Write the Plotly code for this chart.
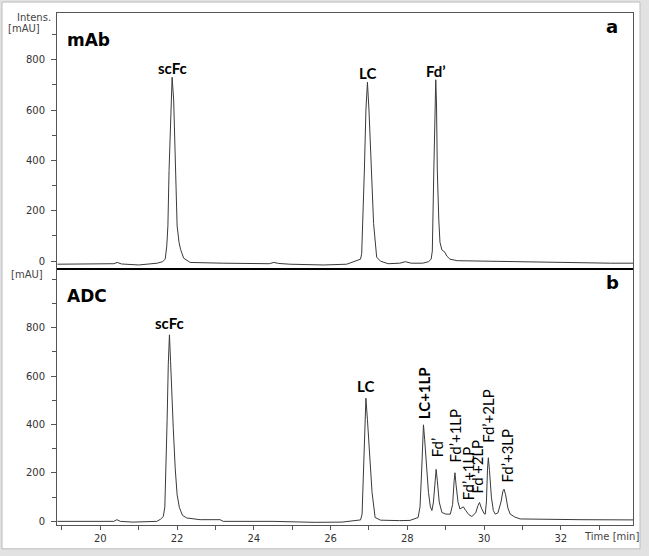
import plotly.graph_objects as go

# ---- chromatogram traces (time [min], intensity [mAU]) ----
mab_time = [18.88, 19.8, 20.35, 20.44, 20.55, 21.0, 21.48, 21.62, 21.69, 21.73, 21.76,
            21.79, 21.84, 21.87, 21.91, 21.95, 22.0, 22.05, 22.09, 22.17, 22.34, 23.2,
            24.4, 24.52, 24.65, 24.94, 25.82, 26.42, 26.63, 26.78, 26.81, 26.84, 26.88,
            26.92, 26.96, 27.0, 27.04, 27.07, 27.12, 27.2, 27.3, 27.5, 27.8, 27.95,
            28.1, 28.4, 28.55, 28.62, 28.65, 28.69, 28.72, 28.74, 28.76, 28.78, 28.82,
            28.85, 28.9, 28.98, 29.03, 29.11, 29.3, 30.0, 31.0, 32.0, 33.3, 33.88]
mab_int = [-12, -12, -10, -5, -11, -15, -8, -2, 8, 60, 140,
           360, 640, 730, 640, 360, 140, 75, 47, 12, -5, -8,
           -10, -5, -9, -12, -15, -12, -2, 8, 30, 150, 362,
           600, 710, 600, 450, 362, 150, 16, 0, -10, -8, -2,
           -8, -8, -2, 8, 40, 362, 620, 720, 620, 362, 160,
           75, 45, 35, 20, 8, 2, 0, -2, -4, -8, -8]

adc_time = [18.88, 19.8, 20.35, 20.43, 20.52, 20.85, 21.47, 21.57, 21.64, 21.68, 21.71,
            21.74, 21.77, 21.80, 21.83, 21.87, 21.90, 21.95, 22.0, 22.06, 22.14, 22.25,
            22.6, 23.12, 23.2, 24.5, 25.6, 26.3, 26.6, 26.78, 26.82, 26.85, 26.89,
            26.92, 26.96, 27.0, 27.03, 27.08, 27.16, 27.3, 27.8, 28.07, 28.28, 28.33,
            28.37, 28.40, 28.42, 28.45, 28.49, 28.55, 28.6, 28.64, 28.68, 28.72, 28.75,
            28.78, 28.83, 28.9, 29.0, 29.12, 29.18, 29.22, 29.24, 29.27, 29.32, 29.37,
            29.42, 29.46, 29.52, 29.6, 29.68, 29.78, 29.84, 29.88, 29.93, 30.0, 30.03,
            30.06, 30.09, 30.11, 30.14, 30.19, 30.24, 30.29, 30.36, 30.44, 30.49, 30.52,
            30.56, 30.62, 30.68, 30.8, 30.94, 31.5, 32.5, 33.88]
adc_int = [0, 0, 0, 7, 0, -3, 0, 9, 20, 60, 200,
           420, 650, 771, 660, 450, 385, 220, 110, 57, 25, 14,
           7, 7, 0, 0, -4, -3, 2, 6, 30, 200, 420,
           509, 420, 320, 263, 120, 16, 5, 3, 4, 16, 60,
           200, 350, 399, 340, 235, 120, 60, 45, 80, 170, 215,
           170, 80, 37, 30, 30, 70, 170, 201, 150, 80, 51,
           58, 60, 45, 28, 20, 35, 65, 78, 55, 32, 30,
           80, 220, 263, 210, 100, 45, 30, 35, 80, 125, 133,
           110, 55, 30, 18, 10, 8, 7, 6]

y_tickvals = [0, 200, 400, 600, 800]

# ---- peak labels ----
mab_labels = ['scFc', 'LC', 'Fd’']
mab_label_time = [21.87, 26.96, 28.74]
mab_label_int = [730, 710, 720]

adc_labels = ['scFc', 'LC']
adc_label_time = [21.80, 26.92]
adc_label_int = [771, 509]

adc_vlabels = ['LC+1LP', 'Fd’', 'Fd’+1LP', 'Fd’+1LP', 'Fd’+2LP', 'Fd’+2LP', 'Fd’+3LP']
adc_vlabel_bold = [True, False, False, False, False, False, False]
adc_vlabel_time = [28.42, 28.78, 29.24, 29.58, 29.82, 30.08, 30.6]
adc_vlabel_int = [416, 256, 235, 79, 108, 317, 153]

W, H = 649, 556
ML, MR, MT, MB = 57, 16, 12, 28
PW, PH = W - ML - MR, H - MT - MB


def px_x(px):
    return (px - ML) / PW


def px_y(py):
    return (H - MB - py) / PH


LINE = '#3a3a3a'
FRAME = '#555555'
TICKFONT = dict(family='DejaVu Sans', size=10, color='#333333')
LABFONT = 'Lato'

fig = go.Figure()
fig.add_trace(go.Scatter(x=mab_time, y=mab_int, mode='lines', xaxis='x2', yaxis='y2',
                         line=dict(color=LINE, width=1), hoverinfo='skip'))
fig.add_trace(go.Scatter(x=adc_time, y=adc_int, mode='lines', xaxis='x', yaxis='y',
                         line=dict(color=LINE, width=1), hoverinfo='skip'))

xr = [18.87, 33.88]
yaxis_common = dict(
    showline=True, linecolor=FRAME, linewidth=1, mirror=True,
    ticks='outside', ticklen=5, tickcolor=FRAME, tickmode='array', tickvals=y_tickvals,
    minor=dict(ticks='outside', ticklen=4, tickmode='linear', tick0=0, dtick=100,
               tickcolor=FRAME),
    showgrid=False, zeroline=False, tickfont=TICKFONT, ticklabelstandoff=4,
)

fig.update_layout(
    width=W, height=H,
    margin=dict(l=ML, r=MR, t=MT, b=MB),
    paper_bgcolor='#e2e2e2', plot_bgcolor='white',
    showlegend=False,
    xaxis=dict(domain=[0, 1], range=xr, anchor='y', showline=True, linecolor=FRAME,
               linewidth=1, ticks='outside', ticklen=4, tickcolor=FRAME, dtick=2, tick0=0,
               minor=dict(ticks='outside', ticklen=4, dtick=1, tickcolor=FRAME),
               showgrid=False, zeroline=False, tickfont=TICKFONT),
    xaxis2=dict(domain=[0, 1], range=xr, anchor='y2', matches='x', showline=True,
                linecolor=FRAME, linewidth=1, mirror=True, showticklabels=False,
                ticks='', showgrid=False, zeroline=False),
    yaxis=dict(domain=[0, 0.5], range=[-15, 1043], anchor='x', **yaxis_common),
    yaxis2=dict(domain=[0.5, 1], range=[-31, 985], anchor='x2', **yaxis_common),
)

# outer light grey frame and panel separator
fig.add_shape(type='rect', xref='paper', yref='paper', layer='below',
              x0=px_x(2), x1=px_x(640), y0=px_y(552), y1=px_y(1),
              fillcolor='white', line=dict(color='#bdbdbd', width=1))
fig.add_shape(type='line', xref='paper', yref='paper', x0=0, x1=1, y0=0.5, y1=0.5,
              line=dict(color='black', width=2))

# peak labels
for txt, t, v in zip(mab_labels, mab_label_time, mab_label_int):
    fig.add_annotation(x=t, y=v, xref='x2', yref='y2', text=f'<b>{txt}</b>',
                       showarrow=False, xanchor='center', yanchor='bottom', yshift=-2,
                       font=dict(family=LABFONT, size=15, color='black'))
for txt, t, v in zip(adc_labels, adc_label_time, adc_label_int):
    fig.add_annotation(x=t, y=v, xref='x', yref='y', text=f'<b>{txt}</b>',
                       showarrow=False, xanchor='center', yanchor='bottom', yshift=1,
                       font=dict(family=LABFONT, size=15, color='black'))
for txt, b, t, v in zip(adc_vlabels, adc_vlabel_bold, adc_vlabel_time, adc_vlabel_int):
    fig.add_annotation(x=t, y=v, xref='x', yref='y', text=f'<b>{txt}</b>' if b else txt,
                       showarrow=False, textangle=-90, xanchor='center', yanchor='bottom',
                       font=dict(family=LABFONT, size=15, color='black'))

# panel titles and letters
for txt, py in [('mAb', 39), ('ADC', 297)]:
    fig.add_annotation(x=px_x(65), y=px_y(py), xref='paper', yref='paper',
                       text=f'<b>{txt}</b>', showarrow=False, xanchor='left', yanchor='middle',
                       font=dict(family='DejaVu Sans', size=17, color='black'))
for txt, py in [('a', 26), ('b', 284)]:
    fig.add_annotation(x=px_x(612), y=px_y(py), xref='paper', yref='paper',
                       text=f'<b>{txt}</b>', showarrow=False, xanchor='center', yanchor='middle',
                       font=dict(family='DejaVu Sans', size=18, color='black'))

# axis captions
AXFONT = dict(family='DejaVu Sans', size=10, color='#444444')
for txt, px, py in [('Intens.', 53, 17), ('[mAU]', 42, 28), ('[mAU]', 45, 276)]:
    fig.add_annotation(x=px_x(px), y=px_y(py), xref='paper', yref='paper', text=txt,
                       showarrow=False, xanchor='right', yanchor='middle', font=AXFONT)
fig.add_annotation(x=px_x(641), y=px_y(540), xref='paper', yref='paper', text='Time [min]',
                   showarrow=False, xanchor='right', yanchor='middle', font=AXFONT)

# the page body has a default margin; remove it so the figure sits at the window origin
fig.write_html('out.html', config={'displayModeBar': False},
               post_script="document.body.style.margin='0';")
